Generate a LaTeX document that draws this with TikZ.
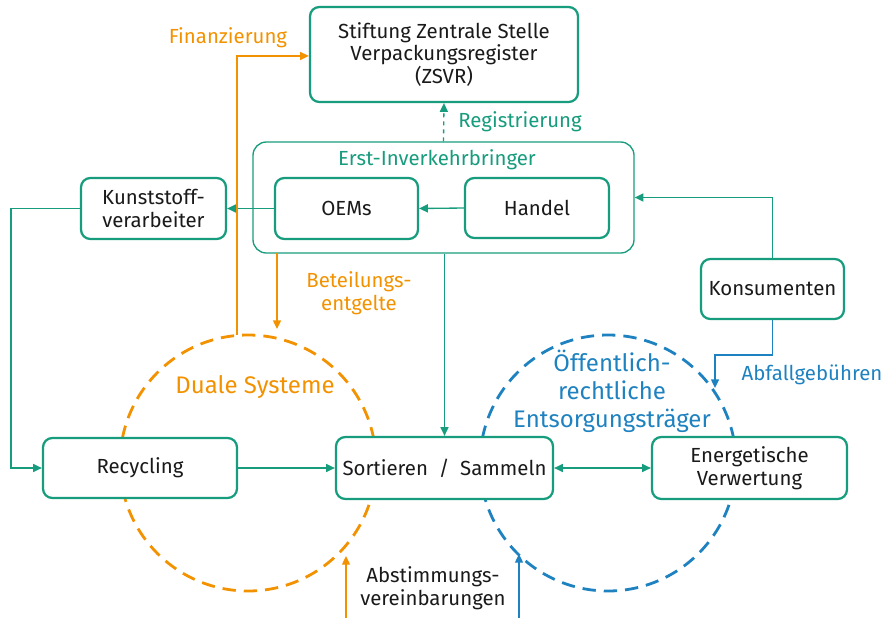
\documentclass[tikz,border=0pt]{standalone}
\usepackage{fontspec}
\setmainfont{Fira Sans}
\usetikzlibrary{arrows.meta}
\definecolor{fgreen}{HTML}{179C7D}
\definecolor{forange}{HTML}{F39200}
\definecolor{fblue}{HTML}{1F82C0}
\definecolor{ftext}{HTML}{1A1A1A}
\tikzset{
  box/.style={draw=fgreen, line width=1.7pt, rounded corners=7pt, fill=white, align=center,
    text=ftext, font=\fontsize{15.3pt}{17pt}\selectfont, inner sep=0pt},
  conn/.style={line width=1pt, -{Triangle[length=6.5pt,width=6pt]}},
  gconn/.style={conn, draw=fgreen},
  oconn/.style={conn, draw=forange},
  bconn/.style={conn, draw=fblue},
  circ/.style={line width=2.1pt, dash pattern=on 10pt off 6pt},
  lbl/.style={align=center, font=\fontsize{15.3pt}{17.5pt}\selectfont, inner sep=0pt},
  biglbl/.style={align=center, font=\fontsize{18pt}{21pt}\selectfont, inner sep=0pt},
}
\begin{document}
\begin{tikzpicture}[x=0.75pt,y=-0.75pt]
\useasboundingbox (0,0) rectangle (886,618);
% circles
\draw[circ, forange] (248,463) circle (128);
\draw[circ, fblue] (608,463) circle (128);
\coordinate (dtop) at (237,335);
% outer box
\node[draw=fgreen, line width=1pt, rounded corners=10pt, minimum width=285.75pt, minimum height=83.25pt, inner sep=0pt] (erst) at (443.5,197.5) {};
\node[lbl, text=fgreen] (erstlbl) at (437,160) {Erst-Inverkehrbringer};
% boxes
\node[box, minimum width=201pt, minimum height=71.25pt] (zsvr) at (444,54.5) {Stiftung Zentrale Stelle\\Verpackungsregister\\(ZSVR)};
\node[box, minimum width=107.25pt, minimum height=45.75pt] (oems) at (346.5,208.5) {OEMs};
\node[box, minimum width=108pt, minimum height=45pt] (handel) at (537,208) {Handel};
\node[box, minimum width=108.75pt, minimum height=45.75pt] (kunst) at (153.5,208.5) {Kunststoff-\\verarbeiter};
\node[box, minimum width=107.25pt, minimum height=45pt] (kons) at (772.5,289) {Konsumenten};
\node[box, minimum width=145.5pt, minimum height=45pt] (rec) at (140,468) {Recycling};
\node[box, minimum width=162.75pt, minimum height=46.5pt] (sort) at (444.5,468) {Sortieren~~/~~Sammeln};
\node[box, minimum width=146.25pt, minimum height=46.5pt] (energ) at (749.5,468) {Energetische\\Verwertung};
% labels
\node[lbl, text=forange] (finlbl) at (228,38) {Finanzierung};
\node[lbl, text=fgreen] (reglbl) at (520,122) {Registrierung};
\node[lbl, text=forange] (betlbl) at (359,293) {Beteilungs-\\entgelte};
\node[lbl, text=fblue] (abflbl) at (812,375) {Abfallgebühren};
\node[lbl, text=ftext] (abslbl) at (433,588) {Abstimmungs-\\vereinbarungen};
\node[biglbl, text=forange] (duallbl) at (255,387) {Duale Systeme};
\node[biglbl, text=fblue] (oerlbl) at (612,391) {Öffentlich-\\rechtliche\\Entsorgungsträger};
% connectors
\draw[gconn, dashed] (erst.north) -- (zsvr.south);
\draw[gconn] (handel.west) -- (oems.east);
\draw[gconn] (oems.west) -- (kunst.east);
\draw[gconn] (kunst.west) -- ++(-69,0) |- (rec.west);
\draw[gconn] (rec.east) -- (sort.west);
\draw[gconn, {Triangle[length=6.5pt,width=6pt]}-{Triangle[length=6.5pt,width=6pt]}] (sort.east) -- (energ.west);
\draw[gconn] (sort.north |- erst.south) -- (sort.north);
\draw[gconn] (kons.north) |- (erst.east);
\coordinate (abfend) at (715,388);
\draw[bconn] (kons.south) -- ++(0,35) -| (abfend);
\draw[oconn] (dtop) |- ([yshift=-1.1pt]zsvr.west);
\coordinate (betstart) at (277,253);
\coordinate (betend) at (277,329);
\draw[oconn] (betstart) -- (betend);
\coordinate (ostart) at (346,618);
\coordinate (oend) at (346,556);
\draw[oconn] (ostart) -- (oend);
\coordinate (bstart) at (519,618);
\coordinate (bend) at (519,554);
\draw[bconn] (bstart) -- (bend);
\end{tikzpicture}
\end{document}
